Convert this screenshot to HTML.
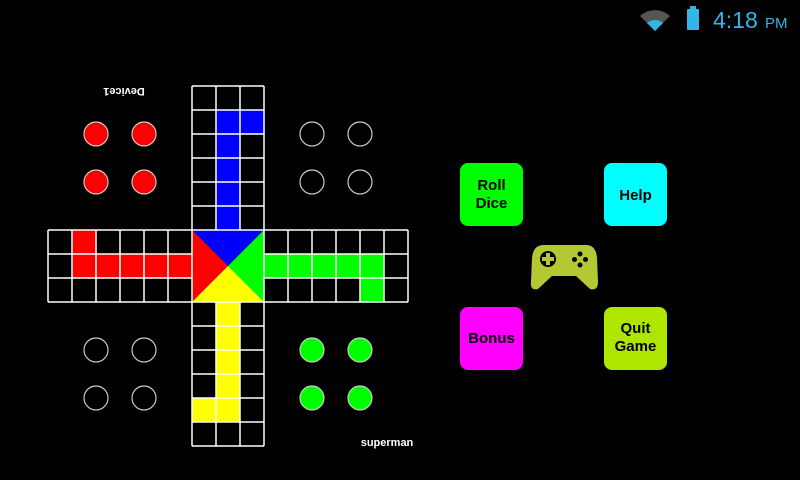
<!DOCTYPE html>
<html><head><style>
html,body{margin:0;padding:0;background:#000;width:800px;height:480px;overflow:hidden}
svg{display:block}
text{font-family:"Liberation Sans",sans-serif}
.btn{font-family:"DejaVu Sans","Liberation Sans",sans-serif}
</style></head><body>
<svg width="800" height="480" viewBox="0 0 800 480" xmlns="http://www.w3.org/2000/svg">
<rect width="800" height="480" fill="#000"/>
<path d="M640,16 A22,22 0 0 1 670,16 L655,31 Z" fill="#555"/>
<path d="M647,23 A12,12 0 0 1 663,23 L655,31 Z" fill="#33b5e5"/>
<rect x="690" y="6" width="6" height="3" fill="#33b5e5"/>
<rect x="687" y="9" width="12" height="21" rx="1" fill="#33b5e5"/>
<text x="713" y="28" font-size="23" fill="#33b5e5">4:18</text>
<text x="765" y="28" font-size="15" fill="#33b5e5">PM</text>

<g fill="#0000ff">
<rect x="216" y="110" width="48" height="24"/>
<rect x="216" y="134" width="24" height="96"/>
</g>
<g fill="#ff0000">
<rect x="72" y="230" width="24" height="24"/>
<rect x="72" y="254" width="120" height="24"/>
</g>
<g fill="#00ff00">
<rect x="264" y="254" width="120" height="24"/>
<rect x="360" y="278" width="24" height="24"/>
</g>
<g fill="#ffff00">
<rect x="216" y="302" width="24" height="120"/>
<rect x="192" y="398" width="24" height="24"/>
</g>
<polygon points="192,230 264,230 228,266" fill="#0000ff"/>
<polygon points="192,230 192,302 228,266" fill="#ff0000"/>
<polygon points="264,230 264,302 228,266" fill="#00ff00"/>
<polygon points="192,302 264,302 228,266" fill="#ffff00"/>

<g stroke="#fff" stroke-width="1.5" fill="none">
<path d="M192,86V230M216,86V230M240,86V230M264,86V230
M192,86H264M192,110H264M192,134H264M192,158H264M192,182H264M192,206H264
M192,302V446M216,302V446M240,302V446M264,302V446
M192,326H264M192,350H264M192,374H264M192,398H264M192,422H264M192,446H264
M48,230H408M48,254H192M264,254H408M48,278H192M264,278H408M48,302H408
M48,230V302M72,230V302M96,230V302M120,230V302M144,230V302M168,230V302M192,230V302
M264,230V302M288,230V302M312,230V302M336,230V302M360,230V302M384,230V302M408,230V302"/>
</g>

<g stroke="#ccc" stroke-width="1.2">
<circle cx="96" cy="134" r="12" fill="#ff0000"/>
<circle cx="144" cy="134" r="12" fill="#ff0000"/>
<circle cx="96" cy="182" r="12" fill="#ff0000"/>
<circle cx="144" cy="182" r="12" fill="#ff0000"/>
<circle cx="312" cy="134" r="12" fill="none"/>
<circle cx="360" cy="134" r="12" fill="none"/>
<circle cx="312" cy="182" r="12" fill="none"/>
<circle cx="360" cy="182" r="12" fill="none"/>
<circle cx="96" cy="350" r="12" fill="none"/>
<circle cx="144" cy="350" r="12" fill="none"/>
<circle cx="96" cy="398" r="12" fill="none"/>
<circle cx="144" cy="398" r="12" fill="none"/>
<circle cx="312" cy="350" r="12" fill="#00ff00"/>
<circle cx="360" cy="350" r="12" fill="#00ff00"/>
<circle cx="312" cy="398" r="12" fill="#00ff00"/>
<circle cx="360" cy="398" r="12" fill="#00ff00"/>
</g>

<text x="124" y="90" font-size="11" font-weight="bold" fill="#fff" text-anchor="middle" transform="rotate(180 124 89)">Device1</text>
<text x="387" y="446" font-size="11" font-weight="bold" fill="#fff" text-anchor="middle">superman</text>

<g class="btn" font-weight="bold" font-size="15" text-anchor="middle" fill="#000">
<rect x="460" y="163" width="63" height="63" rx="8" fill="#00ff00"/>
<text x="491.5" y="190">Roll</text><text x="491.5" y="208">Dice</text>
<rect x="604" y="163" width="63" height="63" rx="8" fill="#00ffff"/>
<text x="635.5" y="200">Help</text>
<rect x="460" y="307" width="63" height="63" rx="8" fill="#ff00ff"/>
<text x="491.5" y="343">Bonus</text>
<rect x="604" y="307" width="63" height="63" rx="8" fill="#aee600"/>
<text x="635.5" y="333">Quit</text><text x="635.5" y="351">Game</text>
</g>

<path d="M544,245 H586 Q596,245 597,258 L598,282 Q598,291 590,289 L576,276 H552 L538,289 Q530,291 531,282 L532,258 Q533,245 544,245 Z" fill="#b3c832"/>
<circle cx="548" cy="259" r="8" fill="#000"/>
<path d="M546,253h4v4h4v4h-4v4h-4v-4h-4v-4h4z" fill="#b3c832"/>
<circle cx="580" cy="254" r="2.5" fill="#000"/>
<circle cx="580" cy="265" r="2.5" fill="#000"/>
<circle cx="574.5" cy="259.5" r="2.5" fill="#000"/>
<circle cx="585.5" cy="259.5" r="2.5" fill="#000"/>
</svg>
</body></html>
